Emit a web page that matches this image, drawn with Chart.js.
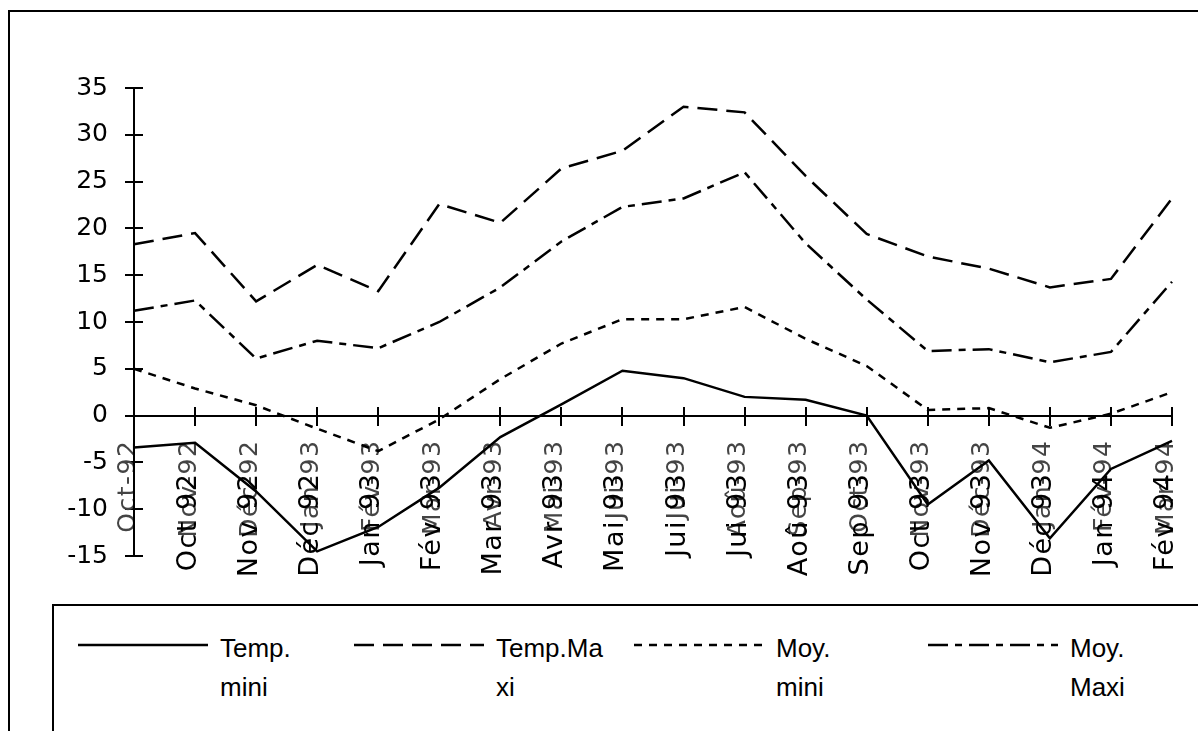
<!DOCTYPE html>
<html>
<head>
<meta charset="utf-8">
<script src="https://cdn.jsdelivr.net/npm/chart.js@4.4.1/dist/chart.umd.min.js"></script>
<style>
  html, body { margin: 0; padding: 0; background: #fff; overflow: hidden; width: 1198px; height: 731px; }
  #frame { position: absolute; left: 8px; top: 10px; width: 1400px; height: 900px;
           border-left: 2px solid #000; border-top: 2px solid #000; }
  #wrap { position: absolute; left: 0; top: 0; width: 1198px; height: 600px; }
  #legendBox { position: absolute; left: 52px; top: 604px; width: 1400px; height: 400px;
               border-left: 2px solid #000; border-top: 2px solid #000; }
  .entry { position: absolute; top: 629px; height: 80px; width: 280px; }
  .entry svg { position: absolute; left: 0; top: 10px; }
  .entry .txt { position: absolute; left: 142px; top: 0; font-family: "Liberation Sans", Arial, sans-serif;
                font-size: 26px; line-height: 39px; color: #000; white-space: nowrap; }
  .entry:nth-child(1) { left: 78px; }
  .entry:nth-child(2) { left: 354px; }
  .entry:nth-child(3) { left: 634px; }
  .entry:nth-child(4) { left: 928px; }
</style>
</head>
<body>
<div id="frame"></div>
<div id="legendBox"></div>
<div id="legend"></div>
<div id="wrap"><canvas id="c"></canvas></div>
<script>
// ---- data ----
const categories = ["Oct-92","Nov-92","Déc-92","Jan-93","Fév-93","Mar-93","Avr-93","Mai-93","Jui-93","Jui-93","Aoû-93","Sep-93","Oct-93","Nov-93","Déc-93","Jan-94","Fév-94","Mar-94"];
const monthLabels = ["","Oct 92","Nov 92","Déc 92","Jan 93","Fév 93","Mar 93","Avr 93","Mai 93","Jui 93","Jui 93","Aoû 93","Sep 93","Oct 93","Nov 93","Déc 93","Jan 94","Fév 94"];
const tempMini = [-3.4, -2.9, -8.1, -14.5, -11.9, -7.7, -2.3, 1.2, 4.8, 4.0, 2.0, 1.7, 0.0, -9.5, -4.8, -13.1, -5.7, -2.7];
const tempMaxi = [18.3, 19.5, 12.2, 16.1, 13.3, 22.6, 20.6, 26.4, 28.3, 33.0, 32.4, 25.6, 19.4, 17.0, 15.7, 13.7, 14.6, 23.2];
const moyMini  = [5.0, 2.9, 1.1, -1.4, -3.8, -0.4, 3.9, 7.7, 10.3, 10.3, 11.6, 8.2, 5.3, 0.6, 0.8, -1.3, 0.2, 2.5];
const moyMaxi  = [11.2, 12.3, 6.1, 8.0, 7.2, 10.0, 13.7, 18.6, 22.3, 23.2, 26.0, 18.4, 12.4, 6.9, 7.1, 5.7, 6.8, 14.3];
const seriesNames = ["Temp. mini", "Temp.Maxi", "Moy. mini", "Moy. Maxi"];
const legendLines = [["Temp.", "mini"], ["Temp.Ma", "xi"], ["Moy.", "mini"], ["Moy.", "Maxi"]];
const yMin = -15, yMax = 35, yStep = 5;

// ---- styles ----
const dashes = [[], [20, 9], [8, 7], [20, 7, 7, 7]];
const seriesData = [tempMini, tempMaxi, moyMini, moyMaxi];

const datasets = seriesNames.map((name, i) => ({
  label: name,
  data: seriesData[i],
  borderColor: '#000',
  backgroundColor: '#000',
  borderWidth: 2.5,
  borderDash: dashes[i],
  pointRadius: 0,
  pointHoverRadius: 0,
  fill: false,
  tension: 0
}));

const tickFont = { family: '"DejaVu Sans", Verdana, sans-serif' };
const noSidePadding = s => { s.paddingLeft = 0; s.paddingRight = 0; };

const letterSpacingPlugin = {
  id: 'tickLetterSpacing',
  beforeDraw(chart) {
    const conf = { x: '1.5px', xd: '1.5px' };
    Object.keys(conf).forEach(id => {
      const s = chart.scales[id];
      if (!s || s._lsPatched) return;
      const orig = s.drawLabels;
      s.drawLabels = function (area) {
        const ctx = this.ctx;
        const prev = ctx.letterSpacing;
        ctx.letterSpacing = conf[id];
        orig.call(this, area);
        ctx.letterSpacing = prev || '0px';
      };
      s._lsPatched = true;
    });
  }
};

const htmlLegendPlugin = {
  id: 'htmlLegend',
  afterUpdate(chart) {
    const host = document.getElementById('legend');
    host.innerHTML = '';
    const items = Chart.defaults.plugins.legend.labels.generateLabels(chart);
    items.forEach(item => {
      const e = document.createElement('div');
      e.className = 'entry';
      const svgNS = 'http://www.w3.org/2000/svg';
      const svg = document.createElementNS(svgNS, 'svg');
      svg.setAttribute('width', '130');
      svg.setAttribute('height', '12');
      const ln = document.createElementNS(svgNS, 'line');
      ln.setAttribute('x1', '0'); ln.setAttribute('x2', '130');
      ln.setAttribute('y1', '6'); ln.setAttribute('y2', '6');
      ln.setAttribute('stroke', item.strokeStyle);
      ln.setAttribute('stroke-width', item.lineWidth);
      if (item.lineDash && item.lineDash.length) ln.setAttribute('stroke-dasharray', item.lineDash.join(' '));
      svg.appendChild(ln);
      e.appendChild(svg);
      const t = document.createElement('div');
      t.className = 'txt';
      legendLines[item.datasetIndex].forEach((l, k) => {
        if (k) t.appendChild(document.createElement('br'));
        t.appendChild(document.createTextNode(l));
      });
      e.appendChild(t);
      host.appendChild(e);
    });
  }
};

new Chart(document.getElementById('c'), {
  type: 'line',
  data: { labels: categories, datasets },
  options: {
    responsive: true,
    maintainAspectRatio: false,
    animation: false,
    events: [],
    layout: { padding: { left: 0, top: 88, right: 26, bottom: 44 } },
    plugins: { legend: { display: false }, tooltip: { enabled: false } },
    scales: {
      x: {
        type: 'category',
        position: { y: 0 },
        offset: false,
        afterFit: noSidePadding,
        grid: { display: true, drawOnChartArea: false, drawTicks: true, tickLength: 9, color: '#000', lineWidth: 2 },
        border: { display: true, color: '#000', width: 2 },
        ticks: { autoSkip: false, minRotation: 90, maxRotation: 90, padding: 15, labelOffset: -6,
                 color: '#444', font: Object.assign({ size: 25 }, tickFont) }
      },
      xd: {
        type: 'category',
        axis: 'x',
        labels: monthLabels,
        position: { y: 0 },
        offset: false,
        afterFit: noSidePadding,
        grid: { display: false, drawTicks: false },
        border: { display: false },
        ticks: { autoSkip: false, minRotation: 90, maxRotation: 90, padding: 57, labelOffset: -6,
                 color: '#000', font: Object.assign({ size: 27 }, tickFont) }
      },
      xu: {
        type: 'category',
        axis: 'x',
        position: { y: 0 },
        offset: false,
        afterFit: noSidePadding,
        grid: { display: true, drawOnChartArea: false, drawTicks: true, tickLength: -9, color: '#000', lineWidth: 2 },
        border: { display: false },
        ticks: { display: false }
      },
      y: {
        type: 'linear',
        position: 'left',
        min: yMin, max: yMax,
        afterFit: s => { s.width = 134; },
        grid: { display: true, drawOnChartArea: false, drawTicks: true, tickLength: 9, color: '#000', lineWidth: 2 },
        border: { display: true, color: '#000', width: 2 },
        ticks: { stepSize: yStep, padding: 17, color: '#000', font: Object.assign({ size: 25 }, tickFont) }
      },
      yu: {
        type: 'linear',
        axis: 'y',
        position: { x: 0 },
        min: yMin, max: yMax,
        grid: { display: true, drawOnChartArea: false, drawTicks: true, tickLength: -9, color: '#000', lineWidth: 2 },
        border: { display: false },
        ticks: { display: false, stepSize: yStep }
      }
    }
  },
  plugins: [letterSpacingPlugin, htmlLegendPlugin]
});
</script>
</body>
</html>
